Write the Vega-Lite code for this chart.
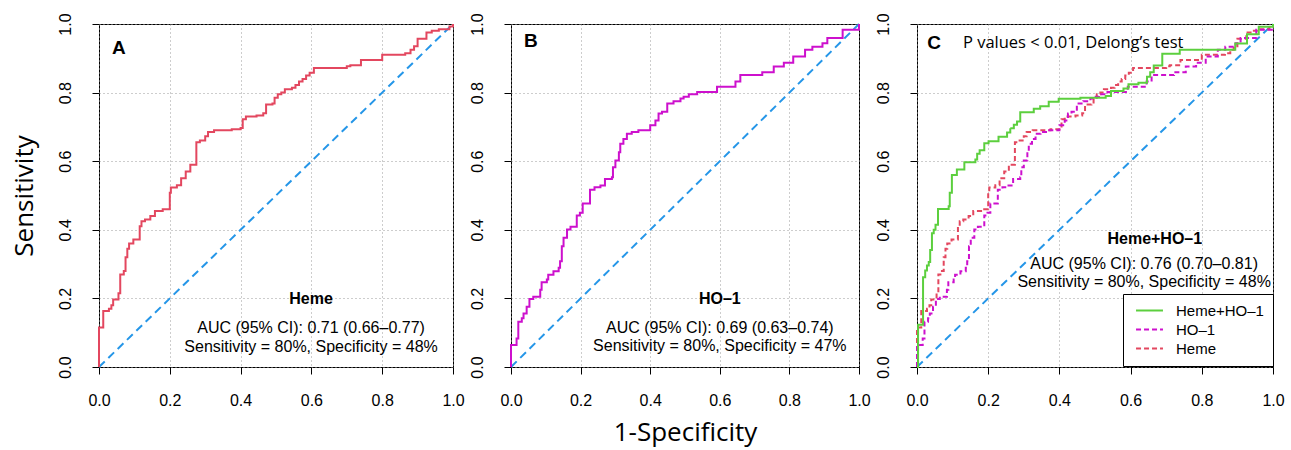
{
"$schema":"https://vega.github.io/schema/vega-lite/v6.json",
"padding":{"left":10,"top":12,"right":5,"bottom":6},
"background":"white",
"spacing":58,
"bounds":"flush",
"datasets":{"roc":[
{"test":"Heme","x":0,"y":0},{"test":"Heme","x":0,"y":0.115},{"test":"Heme","x":0.012,"y":0.163},{"test":"Heme","x":0.028,"y":0.17},{"test":"Heme","x":0.035,"y":0.18},{"test":"Heme","x":0.04,"y":0.197},{"test":"Heme","x":0.055,"y":0.215},{"test":"Heme","x":0.06,"y":0.27},{"test":"Heme","x":0.07,"y":0.28},{"test":"Heme","x":0.075,"y":0.32},{"test":"Heme","x":0.08,"y":0.345},{"test":"Heme","x":0.085,"y":0.36},{"test":"Heme","x":0.097,"y":0.372},{"test":"Heme","x":0.115,"y":0.41},{"test":"Heme","x":0.12,"y":0.425},{"test":"Heme","x":0.13,"y":0.43},{"test":"Heme","x":0.145,"y":0.44},{"test":"Heme","x":0.158,"y":0.455},{"test":"Heme","x":0.18,"y":0.46},{"test":"Heme","x":0.2,"y":0.465},{"test":"Heme","x":0.2,"y":0.508},{"test":"Heme","x":0.203,"y":0.523},{"test":"Heme","x":0.22,"y":0.53},{"test":"Heme","x":0.232,"y":0.55},{"test":"Heme","x":0.245,"y":0.57},{"test":"Heme","x":0.258,"y":0.59},{"test":"Heme","x":0.275,"y":0.655},{"test":"Heme","x":0.285,"y":0.66},{"test":"Heme","x":0.3,"y":0.673},{"test":"Heme","x":0.308,"y":0.685},{"test":"Heme","x":0.325,"y":0.69},{"test":"Heme","x":0.375,"y":0.693},{"test":"Heme","x":0.4,"y":0.697},{"test":"Heme","x":0.406,"y":0.722},{"test":"Heme","x":0.415,"y":0.73},{"test":"Heme","x":0.445,"y":0.733},{"test":"Heme","x":0.464,"y":0.74},{"test":"Heme","x":0.472,"y":0.765},{"test":"Heme","x":0.49,"y":0.768},{"test":"Heme","x":0.496,"y":0.785},{"test":"Heme","x":0.505,"y":0.795},{"test":"Heme","x":0.515,"y":0.8},{"test":"Heme","x":0.525,"y":0.81},{"test":"Heme","x":0.545,"y":0.814},{"test":"Heme","x":0.555,"y":0.822},{"test":"Heme","x":0.565,"y":0.832},{"test":"Heme","x":0.575,"y":0.84},{"test":"Heme","x":0.585,"y":0.85},{"test":"Heme","x":0.595,"y":0.858},{"test":"Heme","x":0.607,"y":0.872},{"test":"Heme","x":0.7,"y":0.877},{"test":"Heme","x":0.71,"y":0.88},{"test":"Heme","x":0.74,"y":0.895},{"test":"Heme","x":0.8,"y":0.91},{"test":"Heme","x":0.865,"y":0.915},{"test":"Heme","x":0.88,"y":0.925},{"test":"Heme","x":0.89,"y":0.935},{"test":"Heme","x":0.9,"y":0.957},{"test":"Heme","x":0.925,"y":0.975},{"test":"Heme","x":0.94,"y":0.98},{"test":"Heme","x":0.96,"y":0.985},{"test":"Heme","x":0.99,"y":0.993},{"test":"Heme","x":1,"y":1},
{"test":"HO–1","x":0,"y":0},{"test":"HO–1","x":0,"y":0.064},{"test":"HO–1","x":0.016,"y":0.083},{"test":"HO–1","x":0.021,"y":0.132},{"test":"HO–1","x":0.031,"y":0.142},{"test":"HO–1","x":0.036,"y":0.156},{"test":"HO–1","x":0.045,"y":0.176},{"test":"HO–1","x":0.053,"y":0.198},{"test":"HO–1","x":0.064,"y":0.205},{"test":"HO–1","x":0.084,"y":0.225},{"test":"HO–1","x":0.088,"y":0.247},{"test":"HO–1","x":0.103,"y":0.255},{"test":"HO–1","x":0.107,"y":0.269},{"test":"HO–1","x":0.122,"y":0.279},{"test":"HO–1","x":0.137,"y":0.289},{"test":"HO–1","x":0.141,"y":0.308},{"test":"HO–1","x":0.146,"y":0.352},{"test":"HO–1","x":0.151,"y":0.377},{"test":"HO–1","x":0.161,"y":0.401},{"test":"HO–1","x":0.171,"y":0.409},{"test":"HO–1","x":0.189,"y":0.442},{"test":"HO–1","x":0.198,"y":0.45},{"test":"HO–1","x":0.206,"y":0.477},{"test":"HO–1","x":0.227,"y":0.517},{"test":"HO–1","x":0.24,"y":0.524},{"test":"HO–1","x":0.257,"y":0.529},{"test":"HO–1","x":0.27,"y":0.548},{"test":"HO–1","x":0.29,"y":0.553},{"test":"HO–1","x":0.293,"y":0.582},{"test":"HO–1","x":0.3,"y":0.602},{"test":"HO–1","x":0.31,"y":0.626},{"test":"HO–1","x":0.314,"y":0.651},{"test":"HO–1","x":0.323,"y":0.665},{"test":"HO–1","x":0.333,"y":0.68},{"test":"HO–1","x":0.347,"y":0.685},{"test":"HO–1","x":0.366,"y":0.69},{"test":"HO–1","x":0.4,"y":0.705},{"test":"HO–1","x":0.415,"y":0.719},{"test":"HO–1","x":0.424,"y":0.739},{"test":"HO–1","x":0.434,"y":0.744},{"test":"HO–1","x":0.449,"y":0.768},{"test":"HO–1","x":0.467,"y":0.775},{"test":"HO–1","x":0.487,"y":0.783},{"test":"HO–1","x":0.496,"y":0.788},{"test":"HO–1","x":0.511,"y":0.795},{"test":"HO–1","x":0.535,"y":0.802},{"test":"HO–1","x":0.592,"y":0.817},{"test":"HO–1","x":0.645,"y":0.832},{"test":"HO–1","x":0.659,"y":0.851},{"test":"HO–1","x":0.722,"y":0.859},{"test":"HO–1","x":0.755,"y":0.876},{"test":"HO–1","x":0.784,"y":0.887},{"test":"HO–1","x":0.811,"y":0.905},{"test":"HO–1","x":0.845,"y":0.925},{"test":"HO–1","x":0.866,"y":0.934},{"test":"HO–1","x":0.895,"y":0.944},{"test":"HO–1","x":0.909,"y":0.959},{"test":"HO–1","x":0.953,"y":0.983},{"test":"HO–1","x":1,"y":1},
{"test":"Heme+HO–1","x":0,"y":0},{"test":"Heme+HO–1","x":0.003,"y":0.123},{"test":"Heme+HO–1","x":0.017,"y":0.138},{"test":"Heme+HO–1","x":0.017,"y":0.262},{"test":"Heme+HO–1","x":0.023,"y":0.281},{"test":"Heme+HO–1","x":0.028,"y":0.296},{"test":"Heme+HO–1","x":0.033,"y":0.306},{"test":"Heme+HO–1","x":0.037,"y":0.341},{"test":"Heme+HO–1","x":0.042,"y":0.39},{"test":"Heme+HO–1","x":0.047,"y":0.4},{"test":"Heme+HO–1","x":0.052,"y":0.415},{"test":"Heme+HO–1","x":0.059,"y":0.461},{"test":"Heme+HO–1","x":0.089,"y":0.469},{"test":"Heme+HO–1","x":0.092,"y":0.508},{"test":"Heme+HO–1","x":0.098,"y":0.56},{"test":"Heme+HO–1","x":0.112,"y":0.576},{"test":"Heme+HO–1","x":0.133,"y":0.597},{"test":"Heme+HO–1","x":0.164,"y":0.605},{"test":"Heme+HO–1","x":0.169,"y":0.622},{"test":"Heme+HO–1","x":0.176,"y":0.632},{"test":"Heme+HO–1","x":0.189,"y":0.652},{"test":"Heme+HO–1","x":0.201,"y":0.658},{"test":"Heme+HO–1","x":0.229,"y":0.671},{"test":"Heme+HO–1","x":0.253,"y":0.684},{"test":"Heme+HO–1","x":0.262,"y":0.696},{"test":"Heme+HO–1","x":0.272,"y":0.706},{"test":"Heme+HO–1","x":0.281,"y":0.716},{"test":"Heme+HO–1","x":0.29,"y":0.743},{"test":"Heme+HO–1","x":0.328,"y":0.753},{"test":"Heme+HO–1","x":0.346,"y":0.76},{"test":"Heme+HO–1","x":0.37,"y":0.773},{"test":"Heme+HO–1","x":0.398,"y":0.782},{"test":"Heme+HO–1","x":0.459,"y":0.785},{"test":"Heme+HO–1","x":0.53,"y":0.79},{"test":"Heme+HO–1","x":0.545,"y":0.805},{"test":"Heme+HO–1","x":0.58,"y":0.812},{"test":"Heme+HO–1","x":0.594,"y":0.824},{"test":"Heme+HO–1","x":0.622,"y":0.829},{"test":"Heme+HO–1","x":0.646,"y":0.846},{"test":"Heme+HO–1","x":0.655,"y":0.859},{"test":"Heme+HO–1","x":0.665,"y":0.879},{"test":"Heme+HO–1","x":0.689,"y":0.913},{"test":"Heme+HO–1","x":0.738,"y":0.925},{"test":"Heme+HO–1","x":0.894,"y":0.943},{"test":"Heme+HO–1","x":0.927,"y":0.97},{"test":"Heme+HO–1","x":0.96,"y":0.992},{"test":"Heme+HO–1","x":1,"y":1}
]},
"hconcat":[
{"width":354,"height":343,
 "layer":[
  {"data":{"values":[{}]},"mark":{"type":"rule","color":"#2596E8","strokeWidth":2,"strokeDash":[8,5]},
   "encoding":{"x":{"datum":0,"type":"quantitative","scale":{"domain":[0,1],"nice":false},"axis":{"title":null}},
     "y":{"datum":0,"type":"quantitative","scale":{"domain":[0,1],"nice":false},"axis":{"title":"Sensitivity","titleFont":"Open Sans","titleFontSize":26,"titleFontWeight":"normal","titleColor":"black","titleX":-75,"titleY":171.5,"titleAlign":"center","titleBaseline":"middle","titleAngle":-90}},
     "x2":{"datum":1},"y2":{"datum":1}}},
  {"data":{"name":"roc"},"transform":[{"filter":"datum.test === 'Heme'"}],"mark":{"type":"line","interpolate":"step-after","color":"#E3475F","strokeWidth":2},
   "encoding":{"x":{"field":"x","type":"quantitative","axis":{"title":null}},"y":{"field":"y","type":"quantitative","axis":{"title":"Sensitivity","titleFont":"Open Sans","titleFontSize":26,"titleFontWeight":"normal","titleColor":"black","titleX":-75,"titleY":171.5,"titleAlign":"center","titleBaseline":"middle","titleAngle":-90}},"order":{"field":"y"}}},
  {"data":{"values":[{}]},"mark":{"type":"text","text":"A","font":"Liberation Sans","fontSize":19,"fontWeight":"bold","align":"center","baseline":"middle"},"encoding":{"x":{"datum":0.056,"type":"quantitative"},"y":{"datum":0.93,"type":"quantitative"}}},
  {"data":{"values":[{}]},"mark":{"type":"text","text":"Heme","font":"Liberation Sans","fontSize":16,"fontWeight":"bold","align":"center","baseline":"middle"},"encoding":{"x":{"datum":0.599,"type":"quantitative"},"y":{"datum":0.198,"type":"quantitative"}}},
  {"data":{"values":[{}]},"mark":{"type":"text","text":"AUC (95% CI): 0.71 (0.66–0.77)","font":"Liberation Sans","fontSize":16,"align":"center","baseline":"middle"},"encoding":{"x":{"datum":0.599,"type":"quantitative"},"y":{"datum":0.114,"type":"quantitative"}}},
  {"data":{"values":[{}]},"mark":{"type":"text","text":"Sensitivity = 80%, Specificity = 48%","font":"Liberation Sans","fontSize":16,"align":"center","baseline":"middle"},"encoding":{"x":{"datum":0.599,"type":"quantitative"},"y":{"datum":0.058,"type":"quantitative"}}}
 ]},
{"width":348,"height":343,
 "layer":[
  {"data":{"values":[{}]},"mark":{"type":"rule","color":"#2596E8","strokeWidth":2,"strokeDash":[8,5]},
   "encoding":{"x":{"datum":0,"type":"quantitative","scale":{"domain":[0,1],"nice":false},"axis":{"title":"1-Specificity","titleFont":"Open Sans","titleFontSize":26,"titleFontWeight":"normal","titleColor":"black","titleX":174,"titleY":65,"titleAlign":"center","titleBaseline":"middle"}},
     "y":{"datum":0,"type":"quantitative","scale":{"domain":[0,1],"nice":false},"axis":{"title":null}},
     "x2":{"datum":1},"y2":{"datum":1}}},
  {"data":{"name":"roc"},"transform":[{"filter":"datum.test === 'HO–1'"}],"mark":{"type":"line","interpolate":"step-after","color":"#CD10CD","strokeWidth":2},
   "encoding":{"x":{"field":"x","type":"quantitative","axis":{"title":"1-Specificity","titleFont":"Open Sans","titleFontSize":26,"titleFontWeight":"normal","titleColor":"black","titleX":174,"titleY":65,"titleAlign":"center","titleBaseline":"middle"}},"y":{"field":"y","type":"quantitative","axis":{"title":null}},"order":{"field":"y"}}},
  {"data":{"values":[{}]},"mark":{"type":"text","text":"B","font":"Liberation Sans","fontSize":19,"fontWeight":"bold","align":"center","baseline":"middle"},"encoding":{"x":{"datum":0.057,"type":"quantitative"},"y":{"datum":0.95,"type":"quantitative"}}},
  {"data":{"values":[{}]},"mark":{"type":"text","text":"HO–1","font":"Liberation Sans","fontSize":16,"fontWeight":"bold","align":"center","baseline":"middle"},"encoding":{"x":{"datum":0.6,"type":"quantitative"},"y":{"datum":0.198,"type":"quantitative"}}},
  {"data":{"values":[{}]},"mark":{"type":"text","text":"AUC (95% CI): 0.69 (0.63–0.74)","font":"Liberation Sans","fontSize":16,"align":"center","baseline":"middle"},"encoding":{"x":{"datum":0.6,"type":"quantitative"},"y":{"datum":0.114,"type":"quantitative"}}},
  {"data":{"values":[{}]},"mark":{"type":"text","text":"Sensitivity = 80%, Specificity = 47%","font":"Liberation Sans","fontSize":16,"align":"center","baseline":"middle"},"encoding":{"x":{"datum":0.6,"type":"quantitative"},"y":{"datum":0.06,"type":"quantitative"}}}
 ]},
{"width":356,"height":343,
 "layer":[
  {"data":{"values":[{}]},"mark":{"type":"rule","color":"#2596E8","strokeWidth":2,"strokeDash":[8,5]},
   "encoding":{"x":{"datum":0,"type":"quantitative","scale":{"domain":[0,1],"nice":false},"axis":{"title":null}},
     "y":{"datum":0,"type":"quantitative","scale":{"domain":[0,1],"nice":false},"axis":{"title":null}},
     "x2":{"datum":1},"y2":{"datum":1}}},
  {"data":{"name":"roc"},"mark":{"type":"line","interpolate":"step-after","strokeWidth":2},
   "encoding":{"x":{"field":"x","type":"quantitative","axis":{"title":null}},"y":{"field":"y","type":"quantitative","axis":{"title":null}},"order":{"field":"y"},
     "color":{"field":"test","type":"nominal","scale":{"domain":["Heme+HO–1","HO–1","Heme"],"range":["#5CCF3E","#CD10CD","#E3475F"]},
        "legend":{"orient":"none","legendX":1024,"legendY":270,"title":null,"symbolType":"M-2.2,0L2.2,0","symbolSize":150,"symbolStrokeWidth":2,"labelFont":"Liberation Sans","labelFontSize":15,"labelColor":"black","labelOffset":19,"rowPadding":3,"padding":9,"symbolOffset":10,"strokeColor":"black","fillColor":"white","cornerRadius":0}},
     "strokeDash":{"field":"test","type":"nominal","scale":{"domain":["Heme+HO–1","HO–1","Heme"],"range":[[1,0],[5,3],[5,3]]},
        "legend":{"orient":"none","legendX":1024,"legendY":270,"title":null,"symbolType":"M-2.2,0L2.2,0","symbolSize":150,"symbolStrokeWidth":2,"labelFont":"Liberation Sans","labelFontSize":15,"labelColor":"black","labelOffset":19,"rowPadding":3,"padding":9,"symbolOffset":10,"strokeColor":"black","fillColor":"white","cornerRadius":0}}}},
  {"data":{"values":[{}]},"mark":{"type":"text","text":"C","font":"Liberation Sans","fontSize":19,"fontWeight":"bold","align":"center","baseline":"middle"},"encoding":{"x":{"datum":0.048,"type":"quantitative"},"y":{"datum":0.945,"type":"quantitative"}}},
  {"data":{"values":[{}]},"mark":{"type":"text","text":"P values < 0.01, Delong’s test","font":"Open Sans","fontSize":16.5,"align":"left","baseline":"middle"},"encoding":{"x":{"datum":0.129,"type":"quantitative"},"y":{"datum":0.945,"type":"quantitative"}}},
  {"data":{"values":[{}]},"mark":{"type":"text","text":"Heme+HO–1","font":"Liberation Sans","fontSize":16,"fontWeight":"bold","align":"center","baseline":"middle"},"encoding":{"x":{"datum":0.668,"type":"quantitative"},"y":{"datum":0.373,"type":"quantitative"}}},
  {"data":{"values":[{}]},"mark":{"type":"text","text":"AUC (95% CI): 0.76 (0.70–0.81)","font":"Liberation Sans","fontSize":16,"align":"center","baseline":"middle"},"encoding":{"x":{"datum":0.638,"type":"quantitative"},"y":{"datum":0.3,"type":"quantitative"}}},
  {"data":{"values":[{}]},"mark":{"type":"text","text":"Sensitivity = 80%, Specificity = 48%","font":"Liberation Sans","fontSize":16,"align":"center","baseline":"middle"},"encoding":{"x":{"datum":0.638,"type":"quantitative"},"y":{"datum":0.248,"type":"quantitative"}}}
 ]}
],
"config":{
 "view":{"stroke":"black","strokeWidth":1},
 "axis":{"grid":true,"gridDash":[1,3],"gridColor":"#9a9a9a","gridWidth":1,"domain":false,"ticks":true,"tickColor":"black","tickSize":7,"tickCount":5,"labelFlush":false,"labelFont":"Liberation Sans","labelFontSize":16,"labelColor":"black","format":".1f"},
 "axisY":{"labelAngle":-90,"labelPadding":19,"labelAlign":"center","labelBaseline":"bottom"},
 "axisX":{"labelPadding":18}
}
}
